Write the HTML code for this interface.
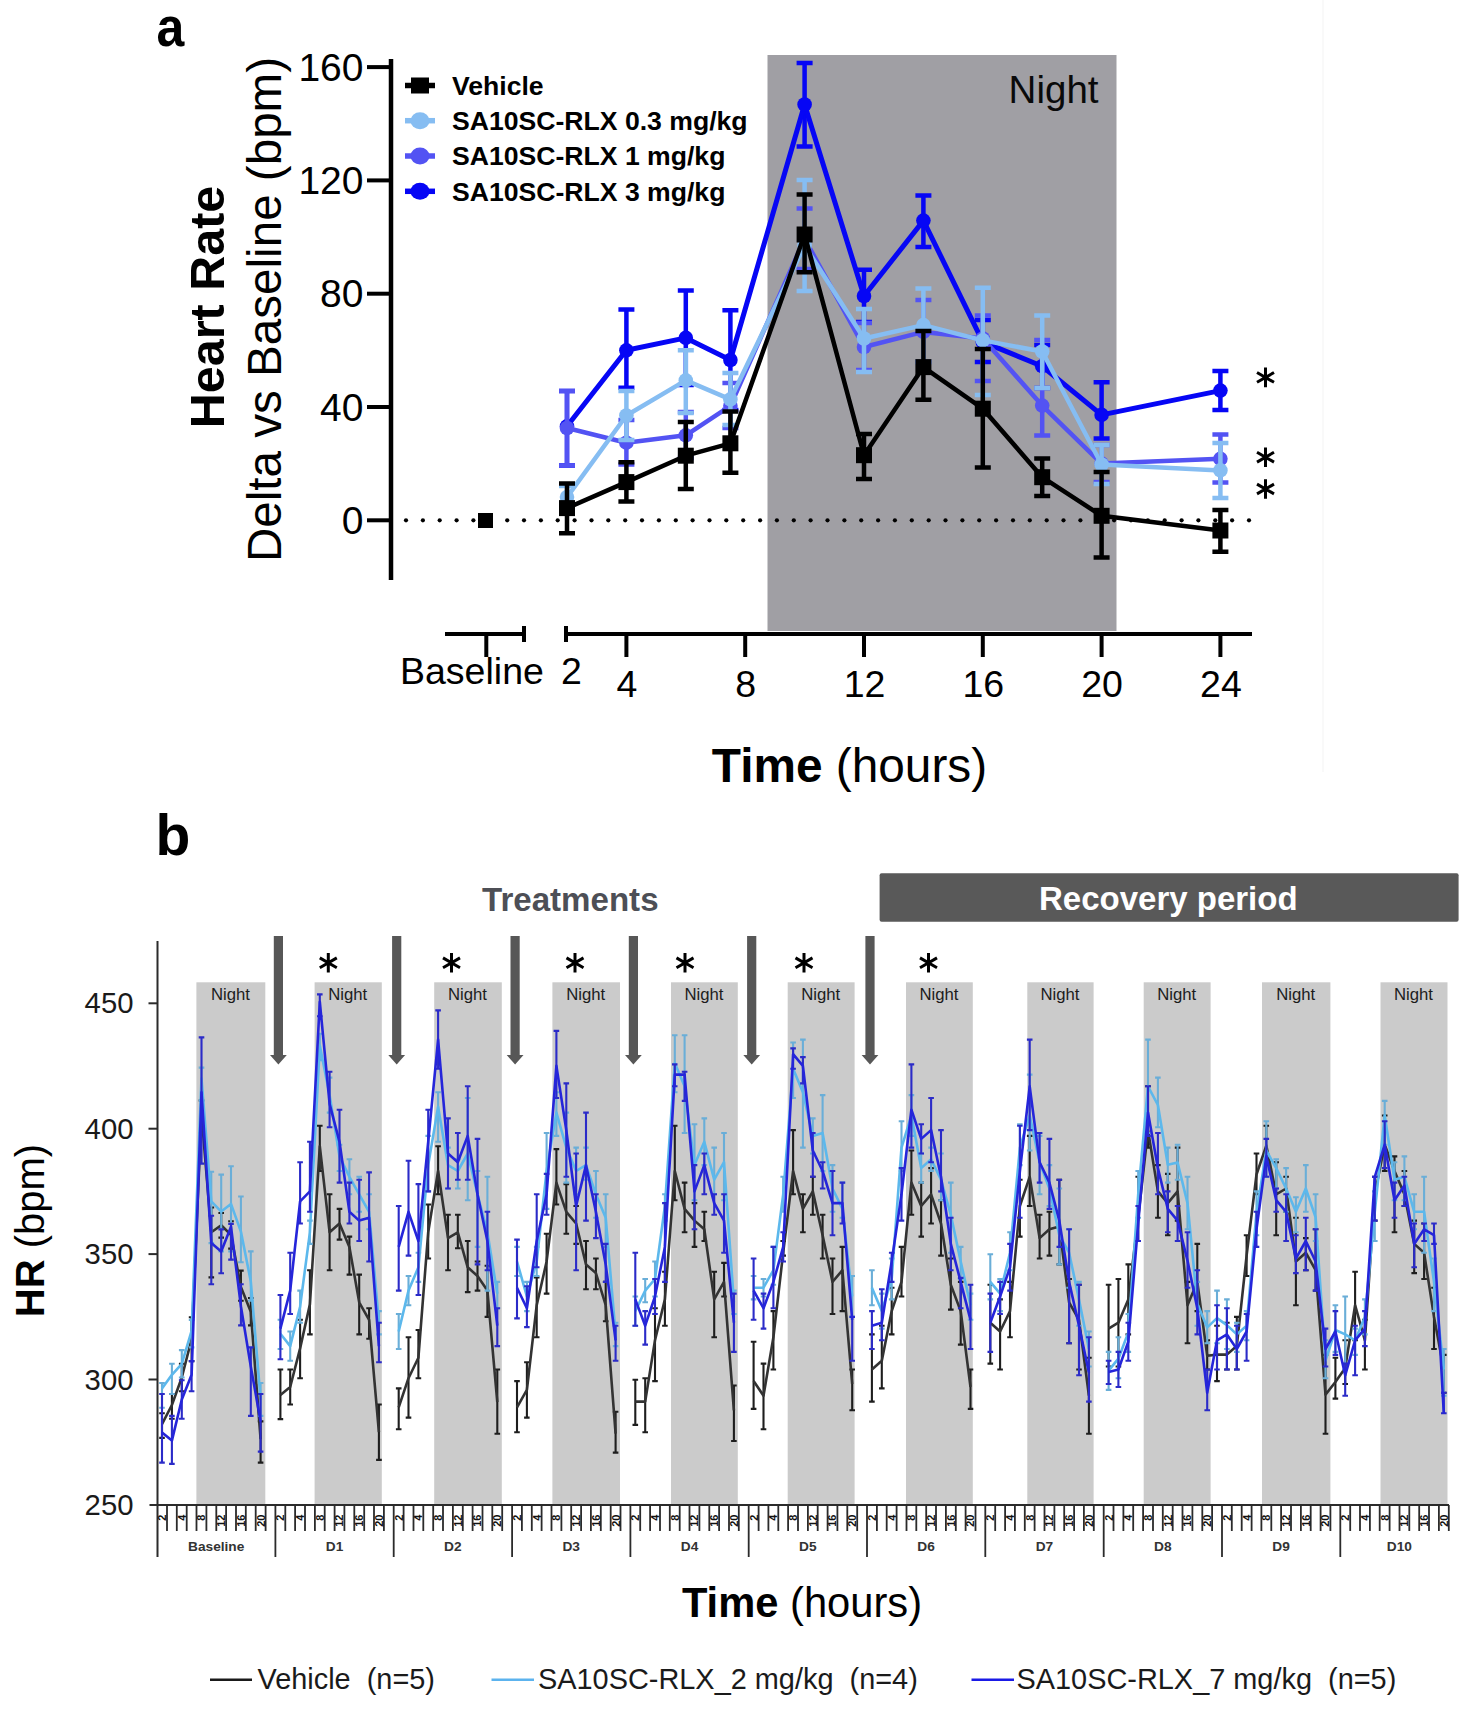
<!DOCTYPE html>
<html><head><meta charset="utf-8"><title>Heart rate</title>
<style>html,body{margin:0;padding:0;background:#fff;}svg{display:block;}</style>
</head><body><svg width="1474" height="1714" viewBox="0 0 1474 1714" font-family="'Liberation Sans', sans-serif"><rect x="1322" y="0" width="2" height="772" fill="#f9f9f9"/><g id="pa"><rect x="767.5" y="55" width="349" height="576" fill="#a09fa4"/><text x="1098.5" y="102.7" font-size="38.5" text-anchor="end" fill="#0a0a0a">Night</text><g fill="#000"><circle cx="406" cy="520.3" r="2.1"/><circle cx="422.9" cy="520.3" r="2.1"/><circle cx="439.7" cy="520.3" r="2.1"/><circle cx="456.6" cy="520.3" r="2.1"/><circle cx="473.4" cy="520.3" r="2.1"/><circle cx="490.3" cy="520.3" r="2.1"/><circle cx="507.2" cy="520.3" r="2.1"/><circle cx="524" cy="520.3" r="2.1"/><circle cx="540.9" cy="520.3" r="2.1"/><circle cx="557.7" cy="520.3" r="2.1"/><circle cx="574.6" cy="520.3" r="2.1"/><circle cx="591.5" cy="520.3" r="2.1"/><circle cx="608.3" cy="520.3" r="2.1"/><circle cx="625.2" cy="520.3" r="2.1"/><circle cx="642" cy="520.3" r="2.1"/><circle cx="658.9" cy="520.3" r="2.1"/><circle cx="675.8" cy="520.3" r="2.1"/><circle cx="692.6" cy="520.3" r="2.1"/><circle cx="709.5" cy="520.3" r="2.1"/><circle cx="726.3" cy="520.3" r="2.1"/><circle cx="743.2" cy="520.3" r="2.1"/><circle cx="760.1" cy="520.3" r="2.1"/><circle cx="776.9" cy="520.3" r="2.1"/><circle cx="793.8" cy="520.3" r="2.1"/><circle cx="810.6" cy="520.3" r="2.1"/><circle cx="827.5" cy="520.3" r="2.1"/><circle cx="844.4" cy="520.3" r="2.1"/><circle cx="861.2" cy="520.3" r="2.1"/><circle cx="878.1" cy="520.3" r="2.1"/><circle cx="894.9" cy="520.3" r="2.1"/><circle cx="911.8" cy="520.3" r="2.1"/><circle cx="928.7" cy="520.3" r="2.1"/><circle cx="945.5" cy="520.3" r="2.1"/><circle cx="962.4" cy="520.3" r="2.1"/><circle cx="979.2" cy="520.3" r="2.1"/><circle cx="996.1" cy="520.3" r="2.1"/><circle cx="1013" cy="520.3" r="2.1"/><circle cx="1029.8" cy="520.3" r="2.1"/><circle cx="1046.7" cy="520.3" r="2.1"/><circle cx="1063.5" cy="520.3" r="2.1"/><circle cx="1080.4" cy="520.3" r="2.1"/><circle cx="1097.3" cy="520.3" r="2.1"/><circle cx="1114.1" cy="520.3" r="2.1"/><circle cx="1131" cy="520.3" r="2.1"/><circle cx="1147.8" cy="520.3" r="2.1"/><circle cx="1164.7" cy="520.3" r="2.1"/><circle cx="1181.6" cy="520.3" r="2.1"/><circle cx="1198.4" cy="520.3" r="2.1"/><circle cx="1215.3" cy="520.3" r="2.1"/><circle cx="1232.1" cy="520.3" r="2.1"/><circle cx="1249" cy="520.3" r="2.1"/></g><line x1="391" y1="59" x2="391" y2="580" stroke="#000" stroke-width="4.5"/><line x1="367" y1="520.3" x2="391" y2="520.3" stroke="#000" stroke-width="4"/><text x="363.5" y="533.8" font-size="39" text-anchor="end">0</text><line x1="367" y1="407" x2="391" y2="407" stroke="#000" stroke-width="4"/><text x="363.5" y="420.5" font-size="39" text-anchor="end">40</text><line x1="367" y1="293.7" x2="391" y2="293.7" stroke="#000" stroke-width="4"/><text x="363.5" y="307.2" font-size="39" text-anchor="end">80</text><line x1="367" y1="180.4" x2="391" y2="180.4" stroke="#000" stroke-width="4"/><text x="363.5" y="193.9" font-size="39" text-anchor="end">120</text><line x1="367" y1="67.1" x2="391" y2="67.1" stroke="#000" stroke-width="4"/><text x="363.5" y="80.6" font-size="39" text-anchor="end">160</text><g stroke="#000" stroke-width="4" fill="none"><line x1="445" y1="634" x2="525" y2="634"/><line x1="524" y1="626" x2="524" y2="642"/><line x1="486.3" y1="634" x2="486.3" y2="657"/><line x1="565" y1="634" x2="1252" y2="634"/><line x1="566" y1="626" x2="566" y2="642"/><line x1="626.4" y1="634" x2="626.4" y2="657"/><line x1="745.2" y1="634" x2="745.2" y2="657"/><line x1="864" y1="634" x2="864" y2="657"/><line x1="982.8" y1="634" x2="982.8" y2="657"/><line x1="1101.6" y1="634" x2="1101.6" y2="657"/><line x1="1220.4" y1="634" x2="1220.4" y2="657"/></g><text x="400" y="684" font-size="37.5">Baseline</text><text x="571.5" y="684" font-size="37.5" text-anchor="middle">2</text><text x="626.9" y="696.5" font-size="37.5" text-anchor="middle">4</text><text x="745.7" y="696.5" font-size="37.5" text-anchor="middle">8</text><text x="864.5" y="696.5" font-size="37.5" text-anchor="middle">12</text><text x="983.3" y="696.5" font-size="37.5" text-anchor="middle">16</text><text x="1102.1" y="696.5" font-size="37.5" text-anchor="middle">20</text><text x="1220.9" y="696.5" font-size="37.5" text-anchor="middle">24</text><text x="849.5" y="782" font-size="47.8" text-anchor="middle"><tspan font-weight="bold">Time</tspan> (hours)</text><text transform="translate(224,307) rotate(-90)" font-size="48.5" font-weight="bold" text-anchor="middle">Heart Rate</text><text transform="translate(281,309.5) rotate(-90)" font-size="47.6" text-anchor="middle">Delta vs Baseline (bpm)</text><text transform="translate(156.5,46) scale(1,1.1)" font-size="50" font-weight="bold">a</text><g stroke="#0606f5" stroke-width="4.5" fill="none"><path d="M567 391V465.4M559 391H575M559 465.4H575"/><path d="M626.4 309.4V387.8M618.4 309.4H634.4M618.4 387.8H634.4"/><path d="M685.8 290.6V385M677.8 290.6H693.8M677.8 385H693.8"/><path d="M730.4 310.2V410M722.4 310.2H738.4M722.4 410H738.4"/><path d="M804.6 63.1V146.4M796.6 63.1H812.6M796.6 146.4H812.6"/><path d="M864 269.8V322M856 269.8H872M856 322H872"/><path d="M923.4 195.4V246.9M915.4 195.4H931.4M915.4 246.9H931.4"/><path d="M982.8 320V362M974.8 320H990.8M974.8 362H990.8"/><path d="M1042.2 345V388M1034.2 345H1050.2M1034.2 388H1050.2"/><path d="M1101.6 382.3V438.5M1093.6 382.3H1109.6M1093.6 438.5H1109.6"/><path d="M1220.4 370.9V410M1212.4 370.9H1228.4M1212.4 410H1228.4"/></g><polyline fill="none" stroke="#0606f5" stroke-width="5" stroke-linejoin="round" points="567,426.3 626.4,350.3 685.8,337.9 730.4,360 804.6,104.5 864,296 923.4,220.6 982.8,341.9 1042.2,366.2 1101.6,414.9 1220.4,390.6"/><g fill="#0606f5"><circle cx="567" cy="426.3" r="7.3"/><circle cx="626.4" cy="350.3" r="7.3"/><circle cx="685.8" cy="337.9" r="7.3"/><circle cx="730.4" cy="360" r="7.3"/><circle cx="804.6" cy="104.5" r="7.3"/><circle cx="864" cy="296" r="7.3"/><circle cx="923.4" cy="220.6" r="7.3"/><circle cx="982.8" cy="341.9" r="7.3"/><circle cx="1042.2" cy="366.2" r="7.3"/><circle cx="1101.6" cy="414.9" r="7.3"/><circle cx="1220.4" cy="390.6" r="7.3"/></g><g stroke="#5353f3" stroke-width="4.5" fill="none"><path d="M567 391V465.4M559 391H575M559 465.4H575"/><path d="M626.4 420V464.6M618.4 420H634.4M618.4 464.6H634.4"/><path d="M685.8 412V458M677.8 412H693.8M677.8 458H693.8"/><path d="M730.4 383V428M722.4 383H738.4M722.4 428H738.4"/><path d="M804.6 208.5V269M796.6 208.5H812.6M796.6 269H812.6"/><path d="M864 322.9V370M856 322.9H872M856 370H872"/><path d="M923.4 300V362M915.4 300H931.4M915.4 362H931.4"/><path d="M982.8 315.5V380.9M974.8 315.5H990.8M974.8 380.9H990.8"/><path d="M1042.2 340V435.6M1034.2 340H1050.2M1034.2 435.6H1050.2"/><path d="M1101.6 445V482M1093.6 445H1109.6M1093.6 482H1109.6"/><path d="M1220.4 434.4V482.5M1212.4 434.4H1228.4M1212.4 482.5H1228.4"/></g><polyline fill="none" stroke="#5353f3" stroke-width="4.5" stroke-linejoin="round" points="567,428 626.4,442.7 685.8,435.3 730.4,405.9 804.6,238.7 864,347 923.4,331.9 982.8,338.5 1042.2,405.6 1101.6,463.6 1220.4,458.8"/><g fill="#5353f3"><circle cx="567" cy="428" r="7.3"/><circle cx="626.4" cy="442.7" r="7.3"/><circle cx="685.8" cy="435.3" r="7.3"/><circle cx="730.4" cy="405.9" r="7.3"/><circle cx="804.6" cy="238.7" r="7.3"/><circle cx="864" cy="347" r="7.3"/><circle cx="923.4" cy="331.9" r="7.3"/><circle cx="982.8" cy="338.5" r="7.3"/><circle cx="1042.2" cy="405.6" r="7.3"/><circle cx="1101.6" cy="463.6" r="7.3"/><circle cx="1220.4" cy="458.8" r="7.3"/></g><g stroke="#86bdf2" stroke-width="4.5" fill="none"><path d="M567 486V505M559 486H575M559 505H575"/><path d="M626.4 391V440M618.4 391H634.4M618.4 440H634.4"/><path d="M685.8 350.3V413M677.8 350.3H693.8M677.8 413H693.8"/><path d="M730.4 373V425M722.4 373H738.4M722.4 425H738.4"/><path d="M804.6 179.9V291M796.6 179.9H812.6M796.6 291H812.6"/><path d="M864 309V371.9M856 309H872M856 371.9H872"/><path d="M923.4 288.6V362M915.4 288.6H931.4M915.4 362H931.4"/><path d="M982.8 287.8V395M974.8 287.8H990.8M974.8 395H990.8"/><path d="M1042.2 315.5V388M1034.2 315.5H1050.2M1034.2 388H1050.2"/><path d="M1101.6 445V484M1093.6 445H1109.6M1093.6 484H1109.6"/><path d="M1220.4 443V497.9M1212.4 443H1228.4M1212.4 497.9H1228.4"/></g><polyline fill="none" stroke="#86bdf2" stroke-width="4.5" stroke-linejoin="round" points="567,497.1 626.4,415.5 685.8,380.4 730.4,399.4 804.6,245.5 864,338.5 923.4,325.1 982.8,340.4 1042.2,351.5 1101.6,464.5 1220.4,470.4"/><g fill="#86bdf2"><circle cx="567" cy="497.1" r="7.3"/><circle cx="626.4" cy="415.5" r="7.3"/><circle cx="685.8" cy="380.4" r="7.3"/><circle cx="730.4" cy="399.4" r="7.3"/><circle cx="804.6" cy="245.5" r="7.3"/><circle cx="864" cy="338.5" r="7.3"/><circle cx="923.4" cy="325.1" r="7.3"/><circle cx="982.8" cy="340.4" r="7.3"/><circle cx="1042.2" cy="351.5" r="7.3"/><circle cx="1101.6" cy="464.5" r="7.3"/><circle cx="1220.4" cy="470.4" r="7.3"/></g><g stroke="#000" stroke-width="4.5" fill="none"><path d="M567 483.4V533.2M559 483.4H575M559 533.2H575"/><path d="M626.4 462.2V501.4M618.4 462.2H634.4M618.4 501.4H634.4"/><path d="M685.8 422.1V489.1M677.8 422.1H693.8M677.8 489.1H693.8"/><path d="M730.4 411.5V472.8M722.4 411.5H738.4M722.4 472.8H738.4"/><path d="M804.6 194.6V272.2M796.6 194.6H812.6M796.6 272.2H812.6"/><path d="M864 434V478.9M856 434H872M856 478.9H872"/><path d="M923.4 331V399.7M915.4 331H931.4M915.4 399.7H931.4"/><path d="M982.8 349V467.5M974.8 349H990.8M974.8 467.5H990.8"/><path d="M1042.2 458.5V496M1034.2 458.5H1050.2M1034.2 496H1050.2"/><path d="M1101.6 471.9V557.4M1093.6 471.9H1109.6M1093.6 557.4H1109.6"/><path d="M1220.4 510.1V551.7M1212.4 510.1H1228.4M1212.4 551.7H1228.4"/></g><polyline fill="none" stroke="#000" stroke-width="4.5" stroke-linejoin="round" points="567,508.1 626.4,482.1 685.8,455.7 730.4,443.3 804.6,234.5 864,455.2 923.4,367.1 982.8,408.7 1042.2,477.2 1101.6,515.8 1220.4,530.5"/><g fill="#000"><rect x="559" y="500.1" width="16" height="16"/><rect x="618.4" y="474.1" width="16" height="16"/><rect x="677.8" y="447.7" width="16" height="16"/><rect x="722.4" y="435.3" width="16" height="16"/><rect x="796.6" y="226.5" width="16" height="16"/><rect x="856" y="447.2" width="16" height="16"/><rect x="915.4" y="359.1" width="16" height="16"/><rect x="974.8" y="400.7" width="16" height="16"/><rect x="1034.2" y="469.2" width="16" height="16"/><rect x="1093.6" y="507.8" width="16" height="16"/><rect x="1212.4" y="522.5" width="16" height="16"/></g><rect x="478" y="513" width="15" height="15" fill="#000"/><path d="M1265.5 387.2L1265.5 367.6M1257 382.3L1274 372.5M1274 382.3L1257 372.5" stroke="#000" stroke-width="3" stroke-linecap="butt" fill="none"/><path d="M1265.5 467L1265.5 447.4M1257 462.1L1274 452.3M1274 462.1L1257 452.3" stroke="#000" stroke-width="3" stroke-linecap="butt" fill="none"/><path d="M1265.5 498.8L1265.5 479.2M1257 493.9L1274 484.1M1274 493.9L1257 484.1" stroke="#000" stroke-width="3" stroke-linecap="butt" fill="none"/><line x1="405" y1="85.5" x2="435" y2="85.5" stroke="#000" stroke-width="5.5"/><rect x="411" y="77.5" width="18" height="16" fill="#000"/><text x="452" y="94.7" font-size="26.6" font-weight="bold">Vehicle</text><line x1="405" y1="120.7" x2="435" y2="120.7" stroke="#86bdf2" stroke-width="5.5"/><ellipse cx="420" cy="120.7" rx="9.5" ry="8.5" fill="#86bdf2"/><text x="452" y="129.9" font-size="26.6" font-weight="bold">SA10SC-RLX 0.3 mg/kg</text><line x1="405" y1="156" x2="435" y2="156" stroke="#5353f3" stroke-width="5.5"/><ellipse cx="420" cy="156" rx="9.5" ry="8.5" fill="#5353f3"/><text x="452" y="165.2" font-size="26.6" font-weight="bold">SA10SC-RLX 1 mg/kg</text><line x1="405" y1="191.3" x2="435" y2="191.3" stroke="#0606f5" stroke-width="5.5"/><ellipse cx="420" cy="191.3" rx="9.5" ry="8.5" fill="#0606f5"/><text x="452" y="200.5" font-size="26.6" font-weight="bold">SA10SC-RLX 3 mg/kg</text></g><g id="pb"><rect x="196.4" y="982.3" width="68.9" height="521.7" fill="#cbcbcb"/><text x="230.4" y="999.8" font-size="16.2" text-anchor="middle" fill="#1c1c1c" textLength="39" lengthAdjust="spacingAndGlyphs">Night</text><rect x="314.6" y="982.3" width="67.2" height="521.7" fill="#cbcbcb"/><text x="347.7" y="999.8" font-size="16.2" text-anchor="middle" fill="#1c1c1c" textLength="39" lengthAdjust="spacingAndGlyphs">Night</text><rect x="434.2" y="982.3" width="67.6" height="521.7" fill="#cbcbcb"/><text x="467.5" y="999.8" font-size="16.2" text-anchor="middle" fill="#1c1c1c" textLength="39" lengthAdjust="spacingAndGlyphs">Night</text><rect x="552.4" y="982.3" width="67.6" height="521.7" fill="#cbcbcb"/><text x="585.7" y="999.8" font-size="16.2" text-anchor="middle" fill="#1c1c1c" textLength="39" lengthAdjust="spacingAndGlyphs">Night</text><rect x="671" y="982.3" width="66.8" height="521.7" fill="#cbcbcb"/><text x="703.9" y="999.8" font-size="16.2" text-anchor="middle" fill="#1c1c1c" textLength="39" lengthAdjust="spacingAndGlyphs">Night</text><rect x="787.7" y="982.3" width="66.9" height="521.7" fill="#cbcbcb"/><text x="820.7" y="999.8" font-size="16.2" text-anchor="middle" fill="#1c1c1c" textLength="39" lengthAdjust="spacingAndGlyphs">Night</text><rect x="906" y="982.3" width="66.8" height="521.7" fill="#cbcbcb"/><text x="938.9" y="999.8" font-size="16.2" text-anchor="middle" fill="#1c1c1c" textLength="39" lengthAdjust="spacingAndGlyphs">Night</text><rect x="1027.3" y="982.3" width="66.3" height="521.7" fill="#cbcbcb"/><text x="1059.9" y="999.8" font-size="16.2" text-anchor="middle" fill="#1c1c1c" textLength="39" lengthAdjust="spacingAndGlyphs">Night</text><rect x="1143.7" y="982.3" width="66.9" height="521.7" fill="#cbcbcb"/><text x="1176.7" y="999.8" font-size="16.2" text-anchor="middle" fill="#1c1c1c" textLength="39" lengthAdjust="spacingAndGlyphs">Night</text><rect x="1262" y="982.3" width="68.4" height="521.7" fill="#cbcbcb"/><text x="1295.7" y="999.8" font-size="16.2" text-anchor="middle" fill="#1c1c1c" textLength="39" lengthAdjust="spacingAndGlyphs">Night</text><rect x="1380.5" y="982.3" width="67" height="521.7" fill="#cbcbcb"/><text x="1413.5" y="999.8" font-size="16.2" text-anchor="middle" fill="#1c1c1c" textLength="39" lengthAdjust="spacingAndGlyphs">Night</text><path d="M273.8 936H283V1055H286.8L278.4 1064.5L270 1055H273.8V936Z" fill="#575757"/><path d="M392.1 936H401.3V1055H405.1L396.7 1064.5L388.3 1055H392.1V936Z" fill="#575757"/><path d="M510.5 936H519.7V1055H523.5L515.1 1064.5L506.7 1055H510.5V936Z" fill="#575757"/><path d="M628.8 936H638V1055H641.8L633.4 1064.5L625 1055H628.8V936Z" fill="#575757"/><path d="M747.1 936H756.3V1055H760.1L751.7 1064.5L743.3 1055H747.1V936Z" fill="#575757"/><path d="M865.4 936H874.6V1055H878.4L870 1064.5L861.6 1055H865.4V936Z" fill="#575757"/><g stroke="#2b2b2b" stroke-width="2" fill="none"><line x1="157.5" y1="941" x2="157.5" y2="1557"/><line x1="148.5" y1="1379.5" x2="157.5" y2="1379.5"/><line x1="148.5" y1="1254.1" x2="157.5" y2="1254.1"/><line x1="148.5" y1="1128.7" x2="157.5" y2="1128.7"/><line x1="148.5" y1="1003.3" x2="157.5" y2="1003.3"/><line x1="149.5" y1="1504.9" x2="1449" y2="1504.9"/><path d="M167 1504.9V1531M176.8 1504.9V1531M186.7 1504.9V1531M196.5 1504.9V1531M206.4 1504.9V1531M216.3 1504.9V1531M226.1 1504.9V1531M236 1504.9V1531M245.8 1504.9V1531M255.7 1504.9V1531M265.6 1504.9V1531M275.4 1504.9V1557M285.3 1504.9V1531M295.1 1504.9V1531M305 1504.9V1531M314.9 1504.9V1531M324.7 1504.9V1531M334.6 1504.9V1531M344.4 1504.9V1531M354.3 1504.9V1531M364.2 1504.9V1531M374 1504.9V1531M383.9 1504.9V1531M393.7 1504.9V1557M403.6 1504.9V1531M413.5 1504.9V1531M423.3 1504.9V1531M433.2 1504.9V1531M443 1504.9V1531M452.9 1504.9V1531M462.8 1504.9V1531M472.6 1504.9V1531M482.5 1504.9V1531M492.3 1504.9V1531M502.2 1504.9V1531M512.1 1504.9V1557M521.9 1504.9V1531M531.8 1504.9V1531M541.6 1504.9V1531M551.5 1504.9V1531M561.4 1504.9V1531M571.2 1504.9V1531M581.1 1504.9V1531M590.9 1504.9V1531M600.8 1504.9V1531M610.7 1504.9V1531M620.5 1504.9V1531M630.4 1504.9V1557M640.2 1504.9V1531M650.1 1504.9V1531M660 1504.9V1531M669.8 1504.9V1531M679.7 1504.9V1531M689.5 1504.9V1531M699.4 1504.9V1531M709.3 1504.9V1531M719.1 1504.9V1531M729 1504.9V1531M738.8 1504.9V1531M748.7 1504.9V1557M758.6 1504.9V1531M768.4 1504.9V1531M778.3 1504.9V1531M788.1 1504.9V1531M798 1504.9V1531M807.9 1504.9V1531M817.7 1504.9V1531M827.6 1504.9V1531M837.4 1504.9V1531M847.3 1504.9V1531M857.2 1504.9V1531M867 1504.9V1557M876.9 1504.9V1531M886.7 1504.9V1531M896.6 1504.9V1531M906.5 1504.9V1531M916.3 1504.9V1531M926.2 1504.9V1531M936 1504.9V1531M945.9 1504.9V1531M955.8 1504.9V1531M965.6 1504.9V1531M975.5 1504.9V1531M985.3 1504.9V1557M995.2 1504.9V1531M1005.1 1504.9V1531M1014.9 1504.9V1531M1024.8 1504.9V1531M1034.6 1504.9V1531M1044.5 1504.9V1531M1054.4 1504.9V1531M1064.2 1504.9V1531M1074.1 1504.9V1531M1083.9 1504.9V1531M1093.8 1504.9V1531M1103.7 1504.9V1557M1113.5 1504.9V1531M1123.4 1504.9V1531M1133.2 1504.9V1531M1143.1 1504.9V1531M1153 1504.9V1531M1162.8 1504.9V1531M1172.7 1504.9V1531M1182.5 1504.9V1531M1192.4 1504.9V1531M1202.3 1504.9V1531M1212.1 1504.9V1531M1222 1504.9V1557M1231.8 1504.9V1531M1241.7 1504.9V1531M1251.6 1504.9V1531M1261.4 1504.9V1531M1271.3 1504.9V1531M1281.1 1504.9V1531M1291 1504.9V1531M1300.9 1504.9V1531M1310.7 1504.9V1531M1320.6 1504.9V1531M1330.4 1504.9V1531M1340.3 1504.9V1557M1350.2 1504.9V1531M1360 1504.9V1531M1369.9 1504.9V1531M1379.7 1504.9V1531M1389.6 1504.9V1531M1399.5 1504.9V1531M1409.3 1504.9V1531M1419.2 1504.9V1531M1429 1504.9V1531M1438.9 1504.9V1531M1448.8 1504.9V1531" stroke-width="1.8"/></g><text x="133.5" y="1514.9" font-size="29.3" text-anchor="end" fill="#1a1a1a">250</text><text x="133.5" y="1389.5" font-size="29.3" text-anchor="end" fill="#1a1a1a">300</text><text x="133.5" y="1264.1" font-size="29.3" text-anchor="end" fill="#1a1a1a">350</text><text x="133.5" y="1138.7" font-size="29.3" text-anchor="end" fill="#1a1a1a">400</text><text x="133.5" y="1013.3" font-size="29.3" text-anchor="end" fill="#1a1a1a">450</text><g font-size="11" font-weight="bold" text-anchor="end" fill="#111"><text transform="translate(165.9,1514.5) rotate(-90)">2</text><text transform="translate(185.7,1514.5) rotate(-90)">4</text><text transform="translate(205.4,1514.5) rotate(-90)">8</text><text transform="translate(225.1,1514.5) rotate(-90)">12</text><text transform="translate(244.8,1514.5) rotate(-90)">16</text><text transform="translate(264.5,1514.5) rotate(-90)">20</text><text transform="translate(284.2,1514.5) rotate(-90)">2</text><text transform="translate(304,1514.5) rotate(-90)">4</text><text transform="translate(323.7,1514.5) rotate(-90)">8</text><text transform="translate(343.4,1514.5) rotate(-90)">12</text><text transform="translate(363.1,1514.5) rotate(-90)">16</text><text transform="translate(382.8,1514.5) rotate(-90)">20</text><text transform="translate(402.6,1514.5) rotate(-90)">2</text><text transform="translate(422.3,1514.5) rotate(-90)">4</text><text transform="translate(442,1514.5) rotate(-90)">8</text><text transform="translate(461.7,1514.5) rotate(-90)">12</text><text transform="translate(481.4,1514.5) rotate(-90)">16</text><text transform="translate(501.2,1514.5) rotate(-90)">20</text><text transform="translate(520.9,1514.5) rotate(-90)">2</text><text transform="translate(540.6,1514.5) rotate(-90)">4</text><text transform="translate(560.3,1514.5) rotate(-90)">8</text><text transform="translate(580,1514.5) rotate(-90)">12</text><text transform="translate(599.8,1514.5) rotate(-90)">16</text><text transform="translate(619.5,1514.5) rotate(-90)">20</text><text transform="translate(639.2,1514.5) rotate(-90)">2</text><text transform="translate(658.9,1514.5) rotate(-90)">4</text><text transform="translate(678.6,1514.5) rotate(-90)">8</text><text transform="translate(698.4,1514.5) rotate(-90)">12</text><text transform="translate(718.1,1514.5) rotate(-90)">16</text><text transform="translate(737.8,1514.5) rotate(-90)">20</text><text transform="translate(757.5,1514.5) rotate(-90)">2</text><text transform="translate(777.2,1514.5) rotate(-90)">4</text><text transform="translate(797,1514.5) rotate(-90)">8</text><text transform="translate(816.7,1514.5) rotate(-90)">12</text><text transform="translate(836.4,1514.5) rotate(-90)">16</text><text transform="translate(856.1,1514.5) rotate(-90)">20</text><text transform="translate(875.8,1514.5) rotate(-90)">2</text><text transform="translate(895.6,1514.5) rotate(-90)">4</text><text transform="translate(915.3,1514.5) rotate(-90)">8</text><text transform="translate(935,1514.5) rotate(-90)">12</text><text transform="translate(954.7,1514.5) rotate(-90)">16</text><text transform="translate(974.4,1514.5) rotate(-90)">20</text><text transform="translate(994.2,1514.5) rotate(-90)">2</text><text transform="translate(1013.9,1514.5) rotate(-90)">4</text><text transform="translate(1033.6,1514.5) rotate(-90)">8</text><text transform="translate(1053.3,1514.5) rotate(-90)">12</text><text transform="translate(1073,1514.5) rotate(-90)">16</text><text transform="translate(1092.8,1514.5) rotate(-90)">20</text><text transform="translate(1112.5,1514.5) rotate(-90)">2</text><text transform="translate(1132.2,1514.5) rotate(-90)">4</text><text transform="translate(1151.9,1514.5) rotate(-90)">8</text><text transform="translate(1171.7,1514.5) rotate(-90)">12</text><text transform="translate(1191.4,1514.5) rotate(-90)">16</text><text transform="translate(1211.1,1514.5) rotate(-90)">20</text><text transform="translate(1230.8,1514.5) rotate(-90)">2</text><text transform="translate(1250.5,1514.5) rotate(-90)">4</text><text transform="translate(1270.2,1514.5) rotate(-90)">8</text><text transform="translate(1290,1514.5) rotate(-90)">12</text><text transform="translate(1309.7,1514.5) rotate(-90)">16</text><text transform="translate(1329.4,1514.5) rotate(-90)">20</text><text transform="translate(1349.1,1514.5) rotate(-90)">2</text><text transform="translate(1368.8,1514.5) rotate(-90)">4</text><text transform="translate(1388.6,1514.5) rotate(-90)">8</text><text transform="translate(1408.3,1514.5) rotate(-90)">12</text><text transform="translate(1428,1514.5) rotate(-90)">16</text><text transform="translate(1447.7,1514.5) rotate(-90)">20</text></g><text x="216.2" y="1551" font-size="13.7" font-weight="bold" text-anchor="middle" fill="#333">Baseline</text><text x="334.5" y="1551" font-size="13.7" font-weight="bold" text-anchor="middle" fill="#333">D1</text><text x="452.8" y="1551" font-size="13.7" font-weight="bold" text-anchor="middle" fill="#333">D2</text><text x="571.2" y="1551" font-size="13.7" font-weight="bold" text-anchor="middle" fill="#333">D3</text><text x="689.5" y="1551" font-size="13.7" font-weight="bold" text-anchor="middle" fill="#333">D4</text><text x="807.8" y="1551" font-size="13.7" font-weight="bold" text-anchor="middle" fill="#333">D5</text><text x="926.1" y="1551" font-size="13.7" font-weight="bold" text-anchor="middle" fill="#333">D6</text><text x="1044.4" y="1551" font-size="13.7" font-weight="bold" text-anchor="middle" fill="#333">D7</text><text x="1162.8" y="1551" font-size="13.7" font-weight="bold" text-anchor="middle" fill="#333">D8</text><text x="1281.1" y="1551" font-size="13.7" font-weight="bold" text-anchor="middle" fill="#333">D9</text><text x="1399.4" y="1551" font-size="13.7" font-weight="bold" text-anchor="middle" fill="#333">D10</text><text x="155.5" y="854.8" font-size="57" font-weight="bold">b</text><text x="570.3" y="910.5" font-size="33.1" font-weight="bold" text-anchor="middle" fill="#4d4f56">Treatments</text><rect x="879.6" y="873.3" width="579" height="48.4" rx="2" fill="#595959"/><text x="1168.3" y="910" font-size="33" font-weight="bold" text-anchor="middle" fill="#fff">Recovery period</text><text transform="translate(44.1,1230.5) rotate(-90)" font-size="40" text-anchor="middle"><tspan font-weight="bold">HR</tspan> (bpm)</text><text x="802" y="1616.7" font-size="41.7" text-anchor="middle"><tspan font-weight="bold">Time</tspan> (hours)</text><line x1="210" y1="1679.7" x2="252" y2="1679.7" stroke="#1a1a1a" stroke-width="2.6"/><text x="257.5" y="1688.5" font-size="28.9" fill="#1a1a1a" xml:space="preserve">Vehicle  (n=5)</text><line x1="491.5" y1="1679.7" x2="534" y2="1679.7" stroke="#5cb3ee" stroke-width="2.6"/><text x="538" y="1688.5" font-size="28.9" fill="#1a1a1a" xml:space="preserve">SA10SC-RLX_2 mg/kg  (n=4)</text><line x1="971.5" y1="1679.7" x2="1014" y2="1679.7" stroke="#1a1ae6" stroke-width="2.6"/><text x="1016.5" y="1688.5" font-size="28.9" fill="#1a1a1a" xml:space="preserve">SA10SC-RLX_7 mg/kg  (n=5)</text><path d="M328.3 972.6L328.3 953M319.8 967.7L336.8 957.9M336.8 967.7L319.8 957.9" stroke="#000" stroke-width="3" stroke-linecap="butt" fill="none"/><path d="M451.5 972.6L451.5 953M443 967.7L460 957.9M460 967.7L443 957.9" stroke="#000" stroke-width="3" stroke-linecap="butt" fill="none"/><path d="M575 972.6L575 953M566.5 967.7L583.5 957.9M583.5 967.7L566.5 957.9" stroke="#000" stroke-width="3" stroke-linecap="butt" fill="none"/><path d="M685 972.6L685 953M676.5 967.7L693.5 957.9M693.5 967.7L676.5 957.9" stroke="#000" stroke-width="3" stroke-linecap="butt" fill="none"/><path d="M804 972.6L804 953M795.5 967.7L812.5 957.9M812.5 967.7L795.5 957.9" stroke="#000" stroke-width="3" stroke-linecap="butt" fill="none"/><path d="M928.5 972.6L928.5 953M920 967.7L937 957.9M937 967.7L920 957.9" stroke="#000" stroke-width="3" stroke-linecap="butt" fill="none"/><path d="M162 1413.2V1437.9M159.2 1413.2H164.8M159.2 1437.9H164.8M171.9 1394V1418.7M169.1 1394H174.7M169.1 1418.7H174.7M181.8 1363.8V1391.2M178.9 1363.8H184.6M178.9 1391.2H184.6M191.6 1317.2V1361.1M188.8 1317.2H194.4M188.8 1361.1H194.4M201.5 1100.5V1133.4M198.7 1100.5H204.3M198.7 1133.4H204.3M211.3 1207.5V1277.4M208.5 1207.5H214.1M208.5 1277.4H214.1M221.2 1213V1237.6M218.4 1213H224M218.4 1237.6H224M231 1221.2V1248.6M228.2 1221.2H233.8M228.2 1248.6H233.8M240.9 1270.6V1300.7M238.1 1270.6H243.7M238.1 1300.7H243.7M250.8 1298V1325.4M248 1298H253.6M248 1325.4H253.6M260.6 1421.4V1462.6M257.8 1421.4H263.4M257.8 1462.6H263.4M280.4 1369.5V1419.1M277.6 1369.5H283.2M277.6 1419.1H283.2M290.2 1369.5V1404.5M287.4 1369.5H293M287.4 1404.5H293M300.1 1319.8V1378.2M297.3 1319.8H302.9M297.3 1378.2H302.9M309.9 1270.2V1334.4M307.1 1270.2H312.7M307.1 1334.4H312.7M319.8 1125.7V1171M317 1125.7H322.6M317 1171H322.6M329.6 1194.3V1270.2M326.8 1194.3H332.4M326.8 1270.2H332.4M339.5 1208.9V1239.6M336.7 1208.9H342.3M336.7 1239.6H342.3M349.4 1236.6V1274.6M346.6 1236.6H352.2M346.6 1274.6H352.2M359.2 1274.6V1334.4M356.4 1274.6H362M356.4 1334.4H362M369.1 1308.2V1338.8M366.3 1308.2H371.9M366.3 1338.8H371.9M378.9 1404.5V1459.9M376.1 1404.5H381.8M376.1 1459.9H381.8M398.7 1388.4V1429.3M395.9 1388.4H401.5M395.9 1429.3H401.5M408.5 1337.3V1417.6M405.7 1337.3H411.3M405.7 1417.6H411.3M418.4 1330V1378.2M415.6 1330H421.2M415.6 1378.2H421.2M428.2 1204.5V1258.5M425.4 1204.5H431.1M425.4 1258.5H431.1M438.1 1146.2V1194.3M435.3 1146.2H440.9M435.3 1194.3H440.9M448 1214.8V1270.2M445.2 1214.8H450.8M445.2 1270.2H450.8M457.8 1214.8V1248.3M455 1214.8H460.6M455 1248.3H460.6M467.7 1241V1292.1M464.9 1241H470.5M464.9 1292.1H470.5M477.5 1261.5V1290.6M474.7 1261.5H480.3M474.7 1290.6H480.3M487.4 1265.8V1316.9M484.6 1265.8H490.2M484.6 1316.9H490.2M497.3 1369.5V1433.7M494.5 1369.5H500.1M494.5 1433.7H500.1M517 1381.1V1432.2M514.2 1381.1H519.8M514.2 1432.2H519.8M526.9 1362.2V1417.6M524.1 1362.2H529.6M524.1 1417.6H529.6M536.7 1277.5V1337.3M533.9 1277.5H539.5M533.9 1337.3H539.5M546.6 1233.7V1293.6M543.8 1233.7H549.4M543.8 1293.6H549.4M556.4 1149.1V1204.5M553.6 1149.1H559.2M553.6 1204.5H559.2M566.3 1184.1V1233.7M563.5 1184.1H569.1M563.5 1233.7H569.1M576.1 1206V1243.9M573.4 1206H578.9M573.4 1243.9H578.9M586 1241V1289.2M583.2 1241H588.8M583.2 1289.2H588.8M595.9 1258.5V1289.2M593.1 1258.5H598.7M593.1 1289.2H598.7M605.7 1281.9V1321.3M602.9 1281.9H608.5M602.9 1321.3H608.5M615.6 1411.8V1452.6M612.8 1411.8H618.4M612.8 1452.6H618.4M635.3 1379.7V1424.9M632.5 1379.7H638.1M632.5 1424.9H638.1M645.2 1378.2V1432.2M642.4 1378.2H648M642.4 1432.2H648M655 1308.2V1381.1M652.2 1308.2H657.8M652.2 1381.1H657.8M664.9 1271.7V1325.7M662.1 1271.7H667.7M662.1 1325.7H667.7M674.8 1125.7V1200.2M672 1125.7H677.5M672 1200.2H677.5M684.6 1182.6V1232.3M681.8 1182.6H687.4M681.8 1232.3H687.4M694.5 1203.1V1246.9M691.7 1203.1H697.3M691.7 1246.9H697.3M704.3 1211.8V1241M701.5 1211.8H707.1M701.5 1241H707.1M714.2 1271.7V1337.3M711.4 1271.7H717M711.4 1337.3H717M724 1262.9V1296.5M721.2 1262.9H726.8M721.2 1296.5H726.8M733.9 1385.5V1441M731.1 1385.5H736.7M731.1 1441H736.7M753.6 1341.7V1408.9M750.8 1341.7H756.4M750.8 1408.9H756.4M763.5 1363.6V1429.3M760.7 1363.6H766.3M760.7 1429.3H766.3M773.4 1311.1V1369.5M770.6 1311.1H776.1M770.6 1369.5H776.1M783.2 1241V1255.6M780.4 1241H786M780.4 1255.6H786M793.1 1130.1V1194.3M790.3 1130.1H795.9M790.3 1194.3H795.9M802.9 1194.3V1232.3M800.1 1194.3H805.7M800.1 1232.3H805.7M812.8 1176.8V1214.8M810 1176.8H815.6M810 1214.8H815.6M822.6 1214.8V1258.5M819.9 1214.8H825.4M819.9 1258.5H825.4M832.5 1258.5V1314M829.7 1258.5H835.3M829.7 1314H835.3M842.4 1246.9V1311.1M839.6 1246.9H845.2M839.6 1311.1H845.2M852.2 1369.5V1410.3M849.4 1369.5H855M849.4 1410.3H855M871.9 1334.4V1401.6M869.1 1334.4H874.7M869.1 1401.6H874.7M881.8 1325.7V1388.4M879 1325.7H884.6M879 1388.4H884.6M891.7 1287.7V1334.4M888.9 1287.7H894.5M888.9 1334.4H894.5M901.5 1246.9V1296.5M898.7 1246.9H904.3M898.7 1296.5H904.3M911.4 1150.5V1214.8M908.6 1150.5H914.2M908.6 1214.8H914.2M921.2 1182.6V1236.6M918.5 1182.6H924M918.5 1236.6H924M931.1 1168.1V1223.5M928.3 1168.1H933.9M928.3 1223.5H933.9M941 1200.2V1255.6M938.2 1200.2H943.8M938.2 1255.6H943.8M950.8 1258.5V1309.6M948 1258.5H953.6M948 1309.6H953.6M960.7 1281.9V1344.6M957.9 1281.9H963.5M957.9 1344.6H963.5M970.5 1369.5V1408.9M967.8 1369.5H973.3M967.8 1408.9H973.3M990.3 1284.8V1363.6M987.5 1284.8H993.1M987.5 1363.6H993.1M1000.1 1299.4V1369.5M997.3 1299.4H1002.9M997.3 1369.5H1002.9M1010 1281.9V1337.3M1007.2 1281.9H1012.8M1007.2 1337.3H1012.8M1019.9 1179.7V1236.6M1017.1 1179.7H1022.6M1017.1 1236.6H1022.6M1029.7 1135.9V1206M1026.9 1135.9H1032.5M1026.9 1206H1032.5M1039.6 1214.8V1258.5M1036.8 1214.8H1042.4M1036.8 1258.5H1042.4M1049.4 1211.8V1255.6M1046.6 1211.8H1052.2M1046.6 1255.6H1052.2M1059.3 1179.7V1264.4M1056.5 1179.7H1062.1M1056.5 1264.4H1062.1M1069.1 1279V1343.2M1066.3 1279H1071.9M1066.3 1343.2H1071.9M1079 1284.8V1369.5M1076.2 1284.8H1081.8M1076.2 1369.5H1081.8M1088.9 1357.8V1433.7M1086.1 1357.8H1091.7M1086.1 1433.7H1091.7M1108.6 1284.8V1366.5M1105.8 1284.8H1111.4M1105.8 1366.5H1111.4M1118.4 1279V1366.5M1115.6 1279H1121.2M1115.6 1366.5H1121.2M1128.3 1264.4V1334.4M1125.5 1264.4H1131.1M1125.5 1334.4H1131.1M1138.2 1176.8V1241M1135.4 1176.8H1141M1135.4 1241H1141M1148 1086.3V1147.6M1145.2 1086.3H1150.8M1145.2 1147.6H1150.8M1157.9 1165.1V1217.7M1155.1 1165.1H1160.7M1155.1 1217.7H1160.7M1167.8 1173.9V1235.2M1165 1173.9H1170.5M1165 1235.2H1170.5M1177.6 1147.6V1220.6M1174.8 1147.6H1180.4M1174.8 1220.6H1180.4M1187.5 1281.9V1343.2M1184.7 1281.9H1190.3M1184.7 1343.2H1190.3M1197.3 1243.9V1311.1M1194.5 1243.9H1200.1M1194.5 1311.1H1200.1M1207.2 1340.3V1369.5M1204.4 1340.3H1210M1204.4 1369.5H1210M1217 1325.7V1381.1M1214.2 1325.7H1219.8M1214.2 1381.1H1219.8M1226.9 1322.7V1369.5M1224.1 1322.7H1229.7M1224.1 1369.5H1229.7M1236.8 1316.9V1369.5M1234 1316.9H1239.6M1234 1369.5H1239.6M1246.6 1235.2V1276M1243.8 1235.2H1249.4M1243.8 1276H1249.4M1256.5 1153.5V1194.3M1253.7 1153.5H1259.3M1253.7 1194.3H1259.3M1266.3 1125.7V1165.1M1263.5 1125.7H1269.1M1263.5 1165.1H1269.1M1276.2 1162.2V1235.2M1273.4 1162.2H1279M1273.4 1235.2H1279M1286.1 1176.8V1211.8M1283.3 1176.8H1288.9M1283.3 1211.8H1288.9M1295.9 1217.7V1305.2M1293.1 1217.7H1298.7M1293.1 1305.2H1298.7M1305.8 1238.1V1270.2M1303 1238.1H1308.6M1303 1270.2H1308.6M1315.6 1229.3V1290.6M1312.8 1229.3H1318.4M1312.8 1290.6H1318.4M1325.5 1354.9V1433.7M1322.7 1354.9H1328.3M1322.7 1433.7H1328.3M1335.4 1357.8V1398.6M1332.6 1357.8H1338.2M1332.6 1398.6H1338.2M1345.2 1340.3V1384M1342.4 1340.3H1348M1342.4 1384H1348M1355.1 1271.7V1340.3M1352.3 1271.7H1357.9M1352.3 1340.3H1357.9M1364.9 1319.8V1369.5M1362.1 1319.8H1367.7M1362.1 1369.5H1367.7M1374.8 1176.8V1220.6M1372 1176.8H1377.6M1372 1220.6H1377.6M1384.7 1115.5V1171M1381.9 1115.5H1387.5M1381.9 1171H1387.5M1394.5 1156.4V1232.3M1391.7 1156.4H1397.3M1391.7 1232.3H1397.3M1404.4 1171V1206M1401.6 1171H1407.2M1401.6 1206H1407.2M1414.2 1220.6V1273.1M1411.4 1220.6H1417M1411.4 1273.1H1417M1424.1 1223.5V1279M1421.3 1223.5H1426.9M1421.3 1279H1426.9M1434 1287.7V1349M1431.2 1287.7H1436.8M1431.2 1349H1436.8M1443.8 1354.9V1392.8M1441 1354.9H1446.6M1441 1392.8H1446.6" stroke="#1e1e1e" stroke-width="2.1" fill="none"/><path d="M162 1424.2L171.9 1405L181.8 1377.5L191.6 1339.1L201.5 1114.2L211.3 1232.2L221.2 1225.3L231 1234.9L240.9 1287L250.8 1311.7L260.6 1439.2M280.4 1395.1L290.2 1387L300.1 1348.4L309.9 1304.4L319.8 1146.2L329.6 1232.3L339.5 1223.5L349.4 1246.9L359.2 1302.3L369.1 1319.8L378.9 1432.2M398.7 1407.4L408.5 1378.2L418.4 1357.8L428.2 1232.3L438.1 1171L448 1238.1L457.8 1232.3L467.7 1267.3L477.5 1276L487.4 1290.6L497.3 1402.1M517 1407.4L526.9 1389.9L536.7 1305.2L546.6 1261.5L556.4 1182.6L566.3 1211.8L576.1 1223.5L586 1264.4L595.9 1273.1L605.7 1305.2L615.6 1433.7M635.3 1401.6L645.2 1401.6L655 1340.3L664.9 1299.4L674.8 1171L684.6 1208.9L694.5 1220.6L704.3 1229.3L714.2 1299.4L724 1281.9L733.9 1410.3M753.6 1381.1L763.5 1395.7L773.4 1337.3L783.2 1252.7L793.1 1171L802.9 1208.9L812.8 1191.4L822.6 1235.2L832.5 1281.9L842.4 1270.2L852.2 1384M871.9 1369.5L881.8 1360.7L891.7 1311.1L901.5 1281.9L911.4 1182.6L921.2 1206L931.1 1194.3L941 1223.5L950.8 1284.8L960.7 1311.1L970.5 1387M990.3 1322.7L1000.1 1331.5L1010 1311.1L1019.9 1206L1029.7 1176.8L1039.6 1238.1L1049.4 1229.3L1059.3 1226.4L1069.1 1302.3L1079 1319.8L1088.9 1395.7M1108.6 1328.6L1118.4 1322.7L1128.3 1299.4L1138.2 1217.7L1148 1130.1L1157.9 1191.4L1167.8 1203.1L1177.6 1191.4L1187.5 1305.2L1197.3 1281.9L1207.2 1355.7L1217 1354.6L1226.9 1354.6L1236.8 1346.1L1246.6 1255.6L1256.5 1174.5L1266.3 1145.6L1276.2 1194.3L1286.1 1188.5L1295.9 1261.5L1305.8 1252.7L1315.6 1270.2L1325.5 1394.6L1335.4 1382L1345.2 1368L1355.1 1305.2L1364.9 1340.3L1374.8 1194.3L1384.7 1144.7L1394.5 1171L1404.4 1194.3L1414.2 1243.9L1424.1 1252.7L1434 1316.9L1443.8 1369.5" stroke="#333333" stroke-width="2.6" fill="none" stroke-linejoin="round"/><path d="M162 1383V1407.7M159.2 1383H164.8M159.2 1407.7H164.8M171.9 1363.8V1394M169.1 1363.8H174.7M169.1 1394H174.7M181.8 1350.1V1377.5M178.9 1350.1H184.6M178.9 1377.5H184.6M191.6 1319.9V1347.4M188.8 1319.9H194.4M188.8 1347.4H194.4M201.5 1067.6V1100.5M198.7 1067.6H204.3M198.7 1100.5H204.3M211.3 1171.8V1243.1M208.5 1171.8H214.1M208.5 1243.1H214.1M221.2 1174.6V1251.4M218.4 1174.6H224M218.4 1251.4H224M231 1166.3V1251.4M228.2 1166.3H233.8M228.2 1251.4H233.8M240.9 1196.5V1262.3M238.1 1196.5H243.7M238.1 1262.3H243.7M250.8 1251.4V1300.7M248 1251.4H253.6M248 1300.7H253.6M260.6 1383V1415.9M257.8 1383H263.4M257.8 1415.9H263.4M280.4 1319.8V1349M277.6 1319.8H283.2M277.6 1349H283.2M290.2 1331.5V1360.7M287.4 1331.5H293M287.4 1360.7H293M300.1 1290.6V1322.7M297.3 1290.6H302.9M297.3 1322.7H302.9M309.9 1220.6V1243.9M307.1 1220.6H312.7M307.1 1243.9H312.7M319.8 1033.8V1060.1M317 1033.8H322.6M317 1060.1H322.6M329.6 1077.6V1112.6M326.8 1077.6H332.4M326.8 1112.6H332.4M339.5 1144.7V1171M336.7 1144.7H342.3M336.7 1171H342.3M349.4 1159.3V1194.3M346.6 1159.3H352.2M346.6 1194.3H352.2M359.2 1176.8V1211.8M356.4 1176.8H362M356.4 1211.8H362M369.1 1194.3V1229.3M366.3 1194.3H371.9M366.3 1229.3H371.9M378.9 1311.1V1334.4M376.1 1311.1H381.8M376.1 1334.4H381.8M398.7 1314V1349M395.9 1314H401.5M395.9 1349H401.5M408.5 1276V1305.2M405.7 1276H411.3M405.7 1305.2H411.3M418.4 1252.7V1281.9M415.6 1252.7H421.2M415.6 1281.9H421.2M428.2 1135.9V1191.4M425.4 1135.9H431.1M425.4 1191.4H431.1M438.1 1092.2V1141.8M435.3 1092.2H440.9M435.3 1141.8H440.9M448 1147.6V1188.5M445.2 1147.6H450.8M445.2 1188.5H450.8M457.8 1159.3V1188.5M455 1159.3H460.6M455 1188.5H460.6M467.7 1098V1200.2M464.9 1098H470.5M464.9 1200.2H470.5M477.5 1171V1246.9M474.7 1171H480.3M474.7 1246.9H480.3M487.4 1176.8V1290.6M484.6 1176.8H490.2M484.6 1290.6H490.2M497.3 1281.9V1308.2M494.5 1281.9H500.1M494.5 1308.2H500.1M517 1246.9V1276M514.2 1246.9H519.8M514.2 1276H519.8M526.9 1281.9V1311.1M524.1 1281.9H529.6M524.1 1311.1H529.6M536.7 1246.9V1276M533.9 1246.9H539.5M533.9 1276H539.5M546.6 1133V1208.9M543.8 1133H549.4M543.8 1208.9H549.4M556.4 1092.2V1135.9M553.6 1092.2H559.2M553.6 1135.9H559.2M566.3 1112.6V1182.6M563.5 1112.6H569.1M563.5 1182.6H569.1M576.1 1147.6V1194.3M573.4 1147.6H578.9M573.4 1194.3H578.9M586 1147.6V1179.7M583.2 1147.6H588.8M583.2 1179.7H588.8M595.9 1171V1217.7M593.1 1171H598.7M593.1 1217.7H598.7M605.7 1194.3V1246.9M602.9 1194.3H608.5M602.9 1246.9H608.5M615.6 1322.7V1346.1M612.8 1322.7H618.4M612.8 1346.1H618.4M635.3 1296.5V1325.7M632.5 1296.5H638.1M632.5 1325.7H638.1M645.2 1279V1302.3M642.4 1279H648M642.4 1302.3H648M655 1261.5V1296.5M652.2 1261.5H657.8M652.2 1296.5H657.8M664.9 1194.3V1220.6M662.1 1194.3H667.7M662.1 1220.6H667.7M674.8 1035.2V1092.2M672 1035.2H677.5M672 1092.2H677.5M684.6 1035.2V1133M681.8 1035.2H687.4M681.8 1133H687.4M694.5 1124.3V1200.2M691.7 1124.3H697.3M691.7 1200.2H697.3M704.3 1118.4V1165.1M701.5 1118.4H707.1M701.5 1165.1H707.1M714.2 1147.6V1194.3M711.4 1147.6H717M711.4 1194.3H717M724 1133V1200.2M721.2 1133H726.8M721.2 1200.2H726.8M733.9 1290.6V1314M731.1 1290.6H736.7M731.1 1314H736.7M753.6 1276V1299.4M750.8 1276H756.4M750.8 1299.4H756.4M763.5 1279V1296.5M760.7 1279H766.3M760.7 1296.5H766.3M773.4 1246.9V1284.8M770.6 1246.9H776.1M770.6 1284.8H776.1M783.2 1176.8V1211.8M780.4 1176.8H786M780.4 1211.8H786M793.1 1042.5V1098M790.3 1042.5H795.9M790.3 1098H795.9M802.9 1039.6V1147.6M800.1 1039.6H805.7M800.1 1147.6H805.7M812.8 1118.4V1153.5M810 1118.4H815.6M810 1153.5H815.6M822.6 1095.1V1171M819.9 1095.1H825.4M819.9 1171H825.4M832.5 1165.1V1211.8M829.7 1165.1H835.3M829.7 1211.8H835.3M842.4 1182.6V1217.7M839.6 1182.6H845.2M839.6 1217.7H845.2M852.2 1276V1316.9M849.4 1276H855M849.4 1316.9H855M871.9 1270.2V1305.2M869.1 1270.2H874.7M869.1 1305.2H874.7M881.8 1293.6V1328.6M879 1293.6H884.6M879 1328.6H884.6M891.7 1258.5V1299.4M888.9 1258.5H894.5M888.9 1299.4H894.5M901.5 1121.3V1171M898.7 1121.3H904.3M898.7 1171H904.3M911.4 1095.1V1135.9M908.6 1095.1H914.2M908.6 1135.9H914.2M921.2 1153.5V1182.6M918.5 1153.5H924M918.5 1182.6H924M931.1 1147.6V1171M928.3 1147.6H933.9M928.3 1171H933.9M941 1153.5V1200.2M938.2 1153.5H943.8M938.2 1200.2H943.8M950.8 1182.6V1252.7M948 1182.6H953.6M948 1252.7H953.6M960.7 1246.9V1279M957.9 1246.9H963.5M957.9 1279H963.5M970.5 1293.6V1319.8M967.8 1293.6H973.3M967.8 1319.8H973.3M990.3 1254.2V1299.4M987.5 1254.2H993.1M987.5 1299.4H993.1M1000.1 1279V1311.1M997.3 1279H1002.9M997.3 1311.1H1002.9M1010 1232.3V1270.2M1007.2 1232.3H1012.8M1007.2 1270.2H1012.8M1019.9 1124.3V1165.1M1017.1 1124.3H1022.6M1017.1 1165.1H1022.6M1029.7 1074.6V1150.5M1026.9 1074.6H1032.5M1026.9 1150.5H1032.5M1039.6 1135.9V1194.3M1036.8 1135.9H1042.4M1036.8 1194.3H1042.4M1049.4 1165.1V1206M1046.6 1165.1H1052.2M1046.6 1206H1052.2M1059.3 1188.5V1264.4M1056.5 1188.5H1062.1M1056.5 1264.4H1062.1M1069.1 1229.3V1287.7M1066.3 1229.3H1071.9M1066.3 1287.7H1071.9M1079 1281.9V1325.7M1076.2 1281.9H1081.8M1076.2 1325.7H1081.8M1088.9 1331.5V1366.5M1086.1 1331.5H1091.7M1086.1 1366.5H1091.7M1108.6 1351.9V1389.9M1105.8 1351.9H1111.4M1105.8 1389.9H1111.4M1118.4 1337.3V1378.2M1115.6 1337.3H1121.2M1115.6 1378.2H1121.2M1128.3 1314V1351.9M1125.5 1314H1131.1M1125.5 1351.9H1131.1M1138.2 1171V1217.7M1135.4 1171H1141M1135.4 1217.7H1141M1148 1039.6V1133M1145.2 1039.6H1150.8M1145.2 1133H1150.8M1157.9 1077.6V1127.2M1155.1 1077.6H1160.7M1155.1 1127.2H1160.7M1167.8 1147.6V1182.6M1165 1147.6H1170.5M1165 1182.6H1170.5M1177.6 1144.7V1179.7M1174.8 1144.7H1180.4M1174.8 1179.7H1180.4M1187.5 1176.8V1229.3M1184.7 1176.8H1190.3M1184.7 1229.3H1190.3M1197.3 1281.9V1325.7M1194.5 1281.9H1200.1M1194.5 1325.7H1200.1M1207.2 1311.1V1343.2M1204.4 1311.1H1210M1204.4 1343.2H1210M1217 1290.6V1343.2M1214.2 1290.6H1219.8M1214.2 1343.2H1219.8M1226.9 1299.4V1349M1224.1 1299.4H1229.7M1224.1 1349H1229.7M1236.8 1322.7V1351.9M1234 1322.7H1239.6M1234 1351.9H1239.6M1246.6 1311.1V1340.3M1243.8 1311.1H1249.4M1243.8 1340.3H1249.4M1256.5 1191.4V1235.2M1253.7 1191.4H1259.3M1253.7 1235.2H1259.3M1266.3 1121.3V1176.8M1263.5 1121.3H1269.1M1263.5 1176.8H1269.1M1276.2 1159.3V1188.5M1273.4 1159.3H1279M1273.4 1188.5H1279M1286.1 1168.1V1211.8M1283.3 1168.1H1288.9M1283.3 1211.8H1288.9M1295.9 1197.2V1232.3M1293.1 1197.2H1298.7M1293.1 1232.3H1298.7M1305.8 1165.1V1211.8M1303 1165.1H1308.6M1303 1211.8H1308.6M1315.6 1194.3V1241M1312.8 1194.3H1318.4M1312.8 1241H1318.4M1325.5 1340.3V1378.2M1322.7 1340.3H1328.3M1322.7 1378.2H1328.3M1335.4 1305.2V1351.9M1332.6 1305.2H1338.2M1332.6 1351.9H1338.2M1345.2 1296.5V1369.5M1342.4 1296.5H1348M1342.4 1369.5H1348M1355.1 1328.6V1354.9M1352.3 1328.6H1357.9M1352.3 1354.9H1357.9M1364.9 1299.4V1334.4M1362.1 1299.4H1367.7M1362.1 1334.4H1367.7M1374.8 1191.4V1241M1372 1191.4H1377.6M1372 1241H1377.6M1384.7 1100.9V1144.7M1381.9 1100.9H1387.5M1381.9 1144.7H1387.5M1394.5 1162.2V1200.2M1391.7 1162.2H1397.3M1391.7 1200.2H1397.3M1404.4 1156.4V1200.2M1401.6 1156.4H1407.2M1401.6 1200.2H1407.2M1414.2 1194.3V1229.3M1411.4 1194.3H1417M1411.4 1229.3H1417M1424.1 1176.8V1252.7M1421.3 1176.8H1426.9M1421.3 1252.7H1426.9M1434 1258.5V1311.1M1431.2 1258.5H1436.8M1431.2 1311.1H1436.8M1443.8 1349V1395.7M1441 1349H1446.6M1441 1395.7H1446.6" stroke="#6aaed8" stroke-width="2.1" fill="none"/><path d="M162 1388.5L171.9 1374.8L181.8 1363.8L191.6 1330.9L201.5 1078.6L211.3 1201.4L221.2 1211.6L231 1203.9L240.9 1231.6L250.8 1281.5L260.6 1399.5M280.4 1333.8L290.2 1346.1L300.1 1306.7L309.9 1232.3L319.8 1045.5L329.6 1095.1L339.5 1156.4L349.4 1176.8L359.2 1194.3L369.1 1211.8L378.9 1322.7M398.7 1331.5L408.5 1290.6L418.4 1267.3L428.2 1165.1L438.1 1106.8L448 1165.1L457.8 1171L467.7 1153.5L477.5 1194.3L487.4 1232.3L497.3 1293.6M517 1261.5L526.9 1296.5L536.7 1261.5L546.6 1171L556.4 1112.6L566.3 1147.6L576.1 1171L586 1165.1L595.9 1194.3L605.7 1217.7L615.6 1334.4M635.3 1311.1L645.2 1290.6L655 1279L664.9 1206L674.8 1063L684.6 1086.3L694.5 1165.1L704.3 1141.8L714.2 1179.7L724 1162.2L733.9 1302.3M753.6 1287.7L763.5 1287.7L773.4 1270.2L783.2 1194.3L793.1 1068.8L802.9 1092.2L812.8 1135.9L822.6 1133L832.5 1188.5L842.4 1208.9L852.2 1296.5M871.9 1287.7L881.8 1311.1L891.7 1279L901.5 1147.6L911.4 1115.5L921.2 1168.1L931.1 1159.3L941 1179.7L950.8 1214.8L960.7 1261.5L970.5 1305.2M990.3 1281.9L1000.1 1293.6L1010 1252.7L1019.9 1147.6L1029.7 1115.5L1039.6 1162.2L1049.4 1188.5L1059.3 1235.2L1069.1 1252.7L1079 1299.4L1088.9 1349M1108.6 1370.6L1118.4 1358.7L1128.3 1332.4L1138.2 1194.3L1148 1086.3L1157.9 1105L1167.8 1164.8L1177.6 1162.5L1187.5 1203.1L1197.3 1303.5L1207.2 1327.4L1217 1318.1L1226.9 1325.1L1236.8 1334.4L1246.6 1325.7L1256.5 1212.7L1266.3 1150.5L1276.2 1168.1L1286.1 1188.5L1295.9 1211.8L1305.8 1188.5L1315.6 1217.4L1325.5 1360.7L1335.4 1330L1345.2 1334.4L1355.1 1340.3L1364.9 1316.9L1374.8 1211.8L1384.7 1115.5L1394.5 1179.7L1404.4 1176.8L1414.2 1211.8L1424.1 1211.8L1434 1281.9L1443.8 1369.5" stroke="#5cb8ec" stroke-width="2.6" fill="none" stroke-linejoin="round"/><path d="M162 1394V1462.6M159.2 1394H164.8M159.2 1462.6H164.8M171.9 1415.9V1463.9M169.1 1415.9H174.7M169.1 1463.9H174.7M181.8 1380.3V1418.7M178.9 1380.3H184.6M178.9 1418.7H184.6M191.6 1361.1V1391.2M188.8 1361.1H194.4M188.8 1391.2H194.4M201.5 1037.4V1163.6M198.7 1037.4H204.3M198.7 1163.6H204.3M211.3 1215.7V1284.3M208.5 1215.7H214.1M208.5 1284.3H214.1M221.2 1229.4V1273.3M218.4 1229.4H224M218.4 1273.3H224M231 1223.9V1259.6M228.2 1223.9H233.8M228.2 1259.6H233.8M240.9 1284.3V1325.4M238.1 1284.3H243.7M238.1 1325.4H243.7M250.8 1347.4V1415.9M248 1347.4H253.6M248 1415.9H253.6M260.6 1394V1451.6M257.8 1394H263.4M257.8 1451.6H263.4M280.4 1295V1359.2M277.6 1295H283.2M277.6 1359.2H283.2M290.2 1252.7V1314M287.4 1252.7H293M287.4 1314H293M300.1 1162.2V1223.5M297.3 1162.2H302.9M297.3 1223.5H302.9M309.9 1141.8V1211.8M307.1 1141.8H312.7M307.1 1211.8H312.7M319.8 994.4V1016.3M317 994.4H322.6M317 1016.3H322.6M329.6 1071.7V1127.2M326.8 1071.7H332.4M326.8 1127.2H332.4M339.5 1109.7V1182.6M336.7 1109.7H342.3M336.7 1182.6H342.3M349.4 1182.6V1223.5M346.6 1182.6H352.2M346.6 1223.5H352.2M359.2 1179.7V1241M356.4 1179.7H362M356.4 1241H362M369.1 1172.4V1261.5M366.3 1172.4H371.9M366.3 1261.5H371.9M378.9 1322.7V1362.2M376.1 1322.7H381.8M376.1 1362.2H381.8M398.7 1206V1290.6M395.9 1206H401.5M395.9 1290.6H401.5M408.5 1160.8V1255.6M405.7 1160.8H411.3M405.7 1255.6H411.3M418.4 1184.1V1295M415.6 1184.1H421.2M415.6 1295H421.2M428.2 1109.7V1191.4M425.4 1109.7H431.1M425.4 1191.4H431.1M438.1 1010.4V1068.8M435.3 1010.4H440.9M435.3 1068.8H440.9M448 1118.4V1188.5M445.2 1118.4H450.8M445.2 1188.5H450.8M457.8 1133V1179.7M455 1133H460.6M455 1179.7H460.6M467.7 1086.3V1179.7M464.9 1086.3H470.5M464.9 1179.7H470.5M477.5 1138.9V1264.4M474.7 1138.9H480.3M474.7 1264.4H480.3M487.4 1211.8V1270.2M484.6 1211.8H490.2M484.6 1270.2H490.2M497.3 1308.2V1346.1M494.5 1308.2H500.1M494.5 1346.1H500.1M517 1239.6V1318.4M514.2 1239.6H519.8M514.2 1318.4H519.8M526.9 1286.3V1327.1M524.1 1286.3H529.6M524.1 1327.1H529.6M536.7 1194.3V1267.3M533.9 1194.3H539.5M533.9 1267.3H539.5M546.6 1173.9V1214.8M543.8 1173.9H549.4M543.8 1214.8H549.4M556.4 1030.9V1098M553.6 1030.9H559.2M553.6 1098H559.2M566.3 1083.4V1176.8M563.5 1083.4H569.1M563.5 1176.8H569.1M576.1 1153.5V1270.2M573.4 1153.5H578.9M573.4 1270.2H578.9M586 1112.6V1220.6M583.2 1112.6H588.8M583.2 1220.6H588.8M595.9 1194.3V1238.1M593.1 1194.3H598.7M593.1 1238.1H598.7M605.7 1243.9V1281.9M602.9 1243.9H608.5M602.9 1281.9H608.5M615.6 1325.7V1360.7M612.8 1325.7H618.4M612.8 1360.7H618.4M635.3 1252.7V1325.7M632.5 1252.7H638.1M632.5 1325.7H638.1M645.2 1311.1V1344.6M642.4 1311.1H648M642.4 1344.6H648M655 1279V1314M652.2 1279H657.8M652.2 1314H657.8M664.9 1203.1V1281.9M662.1 1203.1H667.7M662.1 1281.9H667.7M674.8 1064.4V1086.3M672 1064.4H677.5M672 1086.3H677.5M684.6 1071.7V1100.9M681.8 1071.7H687.4M681.8 1100.9H687.4M694.5 1165.1V1229.3M691.7 1165.1H697.3M691.7 1229.3H697.3M704.3 1153.5V1194.3M701.5 1153.5H707.1M701.5 1194.3H707.1M714.2 1194.3V1214.8M711.4 1194.3H717M711.4 1214.8H717M724 1194.3V1252.7M721.2 1194.3H726.8M721.2 1252.7H726.8M733.9 1293.6V1351.9M731.1 1293.6H736.7M731.1 1351.9H736.7M753.6 1258.5V1319.8M750.8 1258.5H756.4M750.8 1319.8H756.4M763.5 1293.6V1328.6M760.7 1293.6H766.3M760.7 1328.6H766.3M773.4 1246.9V1308.2M770.6 1246.9H776.1M770.6 1308.2H776.1M783.2 1232.3V1261.5M780.4 1232.3H786M780.4 1261.5H786M793.1 1048.4V1068.8M790.3 1048.4H795.9M790.3 1068.8H795.9M802.9 1057.1V1083.4M800.1 1057.1H805.7M800.1 1083.4H805.7M812.8 1133V1176.8M810 1133H815.6M810 1176.8H815.6M822.6 1162.2V1188.5M819.9 1162.2H825.4M819.9 1188.5H825.4M832.5 1171V1235.2M829.7 1171H835.3M829.7 1235.2H835.3M842.4 1182.6V1223.5M839.6 1182.6H845.2M839.6 1223.5H845.2M852.2 1316.9V1360.7M849.4 1316.9H855M849.4 1360.7H855M871.9 1311.1V1349M869.1 1311.1H874.7M869.1 1349H874.7M881.8 1289.2V1340.3M879 1289.2H884.6M879 1340.3H884.6M891.7 1252.7V1281.9M888.9 1252.7H894.5M888.9 1281.9H894.5M901.5 1168.1V1220.6M898.7 1168.1H904.3M898.7 1220.6H904.3M911.4 1064.4V1147.6M908.6 1064.4H914.2M908.6 1147.6H914.2M921.2 1124.3V1153.5M918.5 1124.3H924M918.5 1153.5H924M931.1 1098V1162.2M928.3 1098H933.9M928.3 1162.2H933.9M941 1130.1V1191.4M938.2 1130.1H943.8M938.2 1191.4H943.8M950.8 1217.7V1270.2M948 1217.7H953.6M948 1270.2H953.6M960.7 1277.9V1308.2M957.9 1277.9H963.5M957.9 1308.2H963.5M970.5 1284.8V1349M967.8 1284.8H973.3M967.8 1349H973.3M990.3 1293.6V1351.9M987.5 1293.6H993.1M987.5 1351.9H993.1M1000.1 1281.9V1314M997.3 1281.9H1002.9M997.3 1314H1002.9M1010 1243.9V1290.6M1007.2 1243.9H1012.8M1007.2 1290.6H1012.8M1019.9 1125.7V1217.7M1017.1 1125.7H1022.6M1017.1 1217.7H1022.6M1029.7 1039.6V1130.1M1026.9 1039.6H1032.5M1026.9 1130.1H1032.5M1039.6 1133V1182.6M1036.8 1133H1042.4M1036.8 1182.6H1042.4M1049.4 1138.9V1208.9M1046.6 1138.9H1052.2M1046.6 1208.9H1052.2M1059.3 1179.7V1246.9M1056.5 1179.7H1062.1M1056.5 1246.9H1062.1M1069.1 1229.3V1343.2M1066.3 1229.3H1071.9M1066.3 1343.2H1071.9M1079 1284.8V1375.3M1076.2 1284.8H1081.8M1076.2 1375.3H1081.8M1088.9 1337.3V1401.6M1086.1 1337.3H1091.7M1086.1 1401.6H1091.7M1108.6 1360.7V1384M1105.8 1360.7H1111.4M1105.8 1384H1111.4M1118.4 1351.9V1387M1115.6 1351.9H1121.2M1115.6 1387H1121.2M1128.3 1322.7V1360.7M1125.5 1322.7H1131.1M1125.5 1360.7H1131.1M1138.2 1206V1241M1135.4 1206H1141M1135.4 1241H1141M1148 1086.3V1135.9M1145.2 1086.3H1150.8M1145.2 1135.9H1150.8M1157.9 1133V1194.3M1155.1 1133H1160.7M1155.1 1194.3H1160.7M1167.8 1191.4V1232.3M1165 1191.4H1170.5M1165 1232.3H1170.5M1177.6 1206V1241M1174.8 1206H1180.4M1174.8 1241H1180.4M1187.5 1232.3V1287.7M1184.7 1232.3H1190.3M1184.7 1287.7H1190.3M1197.3 1270.2V1334.4M1194.5 1270.2H1200.1M1194.5 1334.4H1200.1M1207.2 1369.5V1410.3M1204.4 1369.5H1210M1204.4 1410.3H1210M1217 1305.2V1369.5M1214.2 1305.2H1219.8M1214.2 1369.5H1219.8M1226.9 1308.2V1369.5M1224.1 1308.2H1229.7M1224.1 1369.5H1229.7M1236.8 1325.7V1369.5M1234 1325.7H1239.6M1234 1369.5H1239.6M1246.6 1314V1360.7M1243.8 1314H1249.4M1243.8 1360.7H1249.4M1256.5 1211.8V1246.9M1253.7 1211.8H1259.3M1253.7 1246.9H1259.3M1266.3 1138.9V1176.8M1263.5 1138.9H1269.1M1263.5 1176.8H1269.1M1276.2 1188.5V1211.8M1273.4 1188.5H1279M1273.4 1211.8H1279M1286.1 1194.3V1241M1283.3 1194.3H1288.9M1283.3 1241H1288.9M1295.9 1235.2V1273.1M1293.1 1235.2H1298.7M1293.1 1273.1H1298.7M1305.8 1217.7V1270.2M1303 1217.7H1308.6M1303 1270.2H1308.6M1315.6 1229.3V1290.6M1312.8 1229.3H1318.4M1312.8 1290.6H1318.4M1325.5 1328.6V1366.5M1322.7 1328.6H1328.3M1322.7 1366.5H1328.3M1335.4 1311.1V1354.9M1332.6 1311.1H1338.2M1332.6 1354.9H1338.2M1345.2 1363.6V1395.7M1342.4 1363.6H1348M1342.4 1395.7H1348M1355.1 1325.7V1375.3M1352.3 1325.7H1357.9M1352.3 1375.3H1357.9M1364.9 1311.1V1346.1M1362.1 1311.1H1367.7M1362.1 1346.1H1367.7M1374.8 1176.8V1220.6M1372 1176.8H1377.6M1372 1220.6H1377.6M1384.7 1121.3V1168.1M1381.9 1121.3H1387.5M1381.9 1168.1H1387.5M1394.5 1182.6V1217.7M1391.7 1182.6H1397.3M1391.7 1217.7H1397.3M1404.4 1176.8V1206M1401.6 1176.8H1407.2M1401.6 1206H1407.2M1414.2 1223.5V1267.3M1411.4 1223.5H1417M1411.4 1267.3H1417M1424.1 1223.5V1241M1421.3 1223.5H1426.9M1421.3 1241H1426.9M1434 1223.5V1243.9M1431.2 1223.5H1436.8M1431.2 1243.9H1436.8M1443.8 1392.8V1413.2M1441 1392.8H1446.6M1441 1413.2H1446.6" stroke="#2b2bc8" stroke-width="2.1" fill="none"/><path d="M162 1432.4L171.9 1440.6L181.8 1399.5L191.6 1374.8L201.5 1092.3L211.3 1243.1L221.2 1251.4L231 1226.7L240.9 1306.2L250.8 1366.6L260.6 1421.4M280.4 1328.6L290.2 1290.6L300.1 1201.3L309.9 1191.4L319.8 1001.7L329.6 1103.8L339.5 1141.8L349.4 1211.8L359.2 1220.6L369.1 1217.7L378.9 1346.1M398.7 1246.9L408.5 1211.8L418.4 1241L428.2 1141.8L438.1 1039.6L448 1153.5L457.8 1162.2L467.7 1135.9L477.5 1194.3L487.4 1241L497.3 1325.7M517 1287.7L526.9 1308.2L536.7 1241L546.6 1194.3L556.4 1065.9L566.3 1130.1L576.1 1206L586 1165.1L595.9 1211.8L605.7 1264.4L615.6 1340.3M635.3 1299.4L645.2 1325.7L655 1296.5L664.9 1246.9L674.8 1074.6L684.6 1074.6L694.5 1191.4L704.3 1165.1L714.2 1203.1L724 1220.6L733.9 1322.7M753.6 1290.6L763.5 1308.2L773.4 1281.9L783.2 1246.9L793.1 1054.2L802.9 1065.9L812.8 1150.5L822.6 1171L832.5 1203.1L842.4 1203.1L852.2 1319.8M871.9 1325.7L881.8 1322.7L891.7 1261.5L901.5 1194.3L911.4 1109.7L921.2 1138.9L931.1 1130.1L941 1176.8L950.8 1243.9L960.7 1281.9L970.5 1319.8M990.3 1322.7L1000.1 1296.5L1010 1267.3L1019.9 1171L1029.7 1086.3L1039.6 1162.2L1049.4 1182.6L1059.3 1220.6L1069.1 1281.9L1079 1325.7L1088.9 1372.4M1108.6 1372.1L1118.4 1369.5L1128.3 1341.7L1138.2 1223.5L1148 1112.6L1157.9 1168.1L1167.8 1208.9L1177.6 1220.6L1187.5 1260.6L1197.3 1308.4L1207.2 1392.8L1217 1340.3L1226.9 1334.4L1236.8 1349L1246.6 1331.5L1256.5 1229.3L1266.3 1156.4L1276.2 1200.2L1286.1 1211.8L1295.9 1258.5L1305.8 1241L1315.6 1261.5L1325.5 1349L1335.4 1331.5L1345.2 1375.3L1355.1 1340.3L1364.9 1328.6L1374.8 1176.8L1384.7 1144.7L1394.5 1200.2L1404.4 1185.6L1414.2 1243.9L1424.1 1229.3L1434 1235.2L1443.8 1413.2" stroke="#2525da" stroke-width="2.6" fill="none" stroke-linejoin="round"/></g></svg></body></html>
